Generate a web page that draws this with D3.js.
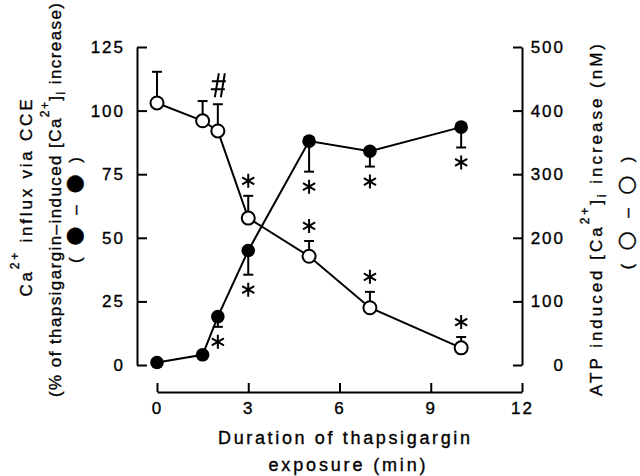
<!DOCTYPE html>
<html>
<head>
<meta charset="utf-8">
<script src="https://cdn.jsdelivr.net/npm/d3@7"></script>
<style>
  body { margin: 0; background: #fff; }
  text { font-family: "Liberation Sans", Arial, sans-serif; fill: #000; stroke: #000; stroke-width: 0.35; }
</style>
</head>
<body>
<script>
let w = 640;
let h = 476;

// data
let times = [0, 1.5, 2, 3, 5, 7, 10];                 // min
let cceMean = [1, 4, 19, 45, 88, 84, 93.5];           // % (filled, left axis)
let cceErr = [0, 0, 4, 9.5, 12, 6, 8];
let cceMark = ["", "", "*", "*", "*", "*", "*"];
let atpMean = [412, 384, 368, 231, 171, 90, 27];      // nM (open, right axis)
let atpErr = [49, 31, 42, 35, 24, 25, 17];
let atpMark = ["", "", "#", "*", "*", "*", "*"];

let xTicks = [0, 3, 6, 9, 12];
let leftTicks = [0, 25, 50, 75, 100, 125];
let rightTicks = [0, 100, 200, 300, 400, 500];

let svg = d3.select("body")
            .append("svg")
            .attr("width", w)
            .attr("height", h);

let x = d3.scaleLinear().domain([0, 12]).range([157, 522]);
let yL = d3.scaleLinear().domain([0, 125]).range([365, 47]);
let yR = d3.scaleLinear().domain([0, 500]).range([365, 47]);

function styleAxis(g) {
  g.selectAll("path, line").attr("stroke", "#000").attr("stroke-width", 2);
  g.selectAll("text")
    .attr("font-size", 17)
    .attr("font-family", "'Liberation Sans', Arial, sans-serif")
    .attr("letter-spacing", 2)
    .attr("fill", "#000");
}

// left axis (ticks point inward)
svg.append("g")
  .attr("transform", "translate(137,0)")
  .call(d3.axisLeft(yL).tickValues(leftTicks).tickSize(-10).tickSizeOuter(0).tickPadding(12))
  .call(styleAxis);

// right axis
let gR = svg.append("g")
  .attr("transform", "translate(522,0)")
  .call(d3.axisRight(yR).tickValues(rightTicks).tickSize(-9).tickSizeOuter(0))
  .call(styleAxis);
gR.selectAll(".tick text").attr("x", 43).attr("text-anchor", "end");

// bottom axis, offset below the plot
svg.append("g")
  .attr("transform", "translate(0,392)")
  .call(d3.axisBottom(x).tickValues(xTicks).tickSize(-9).tickSizeOuter(0).tickPadding(10))
  .call(styleAxis);

let cce = times.map((t, i) => ({t: t, v: cceMean[i], e: cceErr[i], m: cceMark[i]}));
let atp = times.map((t, i) => ({t: t, v: atpMean[i], e: atpErr[i], m: atpMark[i]}));

let lineL = d3.line().x(d => x(d.t)).y(d => yL(d.v));
let lineR = d3.line().x(d => x(d.t)).y(d => yR(d.v));

svg.append("path").attr("d", lineR(atp)).attr("fill", "none").attr("stroke", "#000").attr("stroke-width", 2);
svg.append("path").attr("d", lineL(cce)).attr("fill", "none").attr("stroke", "#000").attr("stroke-width", 2);

// error bars: filled go down, open go up
function errBars(data, sc, dir) {
  let g = svg.append("g").attr("stroke", "#000").attr("stroke-width", 2);
  data.filter(d => d.e > 0).forEach(d => {
    let y0 = sc(d.v), y1 = sc(d.v + dir * d.e);
    g.append("line").attr("x1", x(d.t)).attr("x2", x(d.t)).attr("y1", y0).attr("y2", y1);
    g.append("line").attr("x1", x(d.t) - 5).attr("x2", x(d.t) + 5).attr("y1", y1).attr("y2", y1);
  });
}
errBars(cce, yL, -1);
errBars(atp, yR, 1);

svg.selectAll("circle.open")
  .data(atp)
  .enter()
  .append("circle")
    .attr("class", "open")
    .attr("cx", d => x(d.t))
    .attr("cy", d => yR(d.v))
    .attr("r", 6.5)
    .attr("fill", "#fff")
    .attr("stroke", "#000")
    .attr("stroke-width", 2);

svg.selectAll("circle.filled")
  .data(cce)
  .enter()
  .append("circle")
    .attr("class", "filled")
    .attr("cx", d => x(d.t))
    .attr("cy", d => yL(d.v))
    .attr("r", 6.8)
    .attr("fill", "#000");

// significance marks
function star(cx, cy) {
  let r = 7, p = "";
  [90, 30, -30].forEach(a => {
    let dx = r * Math.cos(a * Math.PI / 180), dy = r * Math.sin(a * Math.PI / 180);
    p += "M" + (cx - dx) + "," + (cy - dy) + "L" + (cx + dx) + "," + (cy + dy);
  });
  return p;
}
function hash(cx, cy) {
  return "M" + (cx - 7) + "," + (cy - 4) + "H" + (cx + 7) +
         "M" + (cx - 8) + "," + (cy + 4) + "H" + (cx + 6) +
         "M" + (cx) + "," + (cy - 12) + "L" + (cx - 4) + "," + (cy + 12) +
         "M" + (cx + 6) + "," + (cy - 12) + "L" + (cx + 2) + "," + (cy + 12);
}
let marks = svg.append("g").attr("stroke", "#000").attr("stroke-width", 2).attr("fill", "none");
cce.filter(d => d.m).forEach(d => {
  marks.append("path").attr("d", star(x(d.t), yL(d.v - d.e) + 15));
});
atp.filter(d => d.m).forEach(d => {
  if (d.m == "#") marks.append("path").attr("d", hash(x(d.t) + 1, yR(d.v + d.e) - 19));
  else marks.append("path").attr("d", star(x(d.t), yR(d.v + d.e) - 15));
});

// x title
svg.append("text").attr("x", 344).attr("y", 444).attr("text-anchor", "middle")
  .attr("font-size", 18).attr("textLength", 252).attr("lengthAdjust", "spacing")
  .text("Duration of thapsigargin");
svg.append("text").attr("x", 347).attr("y", 471).attr("text-anchor", "middle")
  .attr("font-size", 18).attr("textLength", 157).attr("lengthAdjust", "spacing")
  .text("exposure (min)");

// left title (rotated)
let t1 = svg.append("text").attr("transform", "translate(32,198) rotate(-90)")
  .attr("text-anchor", "middle").attr("font-size", 17)
  .attr("textLength", 197).attr("lengthAdjust", "spacing");
t1.append("tspan").text("Ca");
t1.append("tspan").attr("font-size", 12).attr("dy", -13).text("2+");
t1.append("tspan").attr("dy", 13).text(" influx via CCE");

let t2 = svg.append("text").attr("transform", "translate(61,200) rotate(-90)")
  .attr("text-anchor", "middle").attr("font-size", 17)
  .attr("textLength", 394).attr("lengthAdjust", "spacing");
t2.append("tspan").text("(% of thapsigargin\u2013induced [Ca");
t2.append("tspan").attr("font-size", 12).attr("dy", -12).text("2+");
t2.append("tspan").attr("dy", 12).text("]");
t2.append("tspan").attr("font-size", 12).attr("dy", 4).text("i");
t2.append("tspan").attr("dy", -4).text(" increase)");

let t5 = svg.append("text").attr("transform", "translate(81,210) rotate(-90)")
  .attr("text-anchor", "middle").attr("font-size", 17)
  .attr("textLength", 106).attr("lengthAdjust", "spacing");
t5.append("tspan").text("( ");
t5.append("tspan").attr("font-size", 22).attr("font-family", "'DejaVu Sans'").text("\u25CF");
t5.append("tspan").text(" \u2013 ");
t5.append("tspan").attr("font-size", 22).attr("font-family", "'DejaVu Sans'").text("\u25CF");
t5.append("tspan").text(" )");

// right title (rotated)
let t3 = svg.append("text").attr("transform", "translate(602,220) rotate(-90)")
  .attr("text-anchor", "middle").attr("font-size", 17)
  .attr("textLength", 352).attr("lengthAdjust", "spacing");
t3.append("tspan").text("ATP induced [Ca");
t3.append("tspan").attr("font-size", 12).attr("dy", -13).text("2+");
t3.append("tspan").attr("dy", 13).text("]");
t3.append("tspan").attr("font-size", 12).attr("dy", 4).text("i");
t3.append("tspan").attr("dy", -4).text(" increase (nM)");

let t4 = svg.append("text").attr("transform", "translate(633,213) rotate(-90)")
  .attr("text-anchor", "middle").attr("font-size", 17)
  .attr("textLength", 113).attr("lengthAdjust", "spacing");
t4.append("tspan").text("( ");
t4.append("tspan").attr("font-size", 22).attr("font-family", "'DejaVu Sans'").text("\u25CB");
t4.append("tspan").text(" \u2013 ");
t4.append("tspan").attr("font-size", 22).attr("font-family", "'DejaVu Sans'").text("\u25CB");
t4.append("tspan").text(" )");
</script>
</body>
</html>
